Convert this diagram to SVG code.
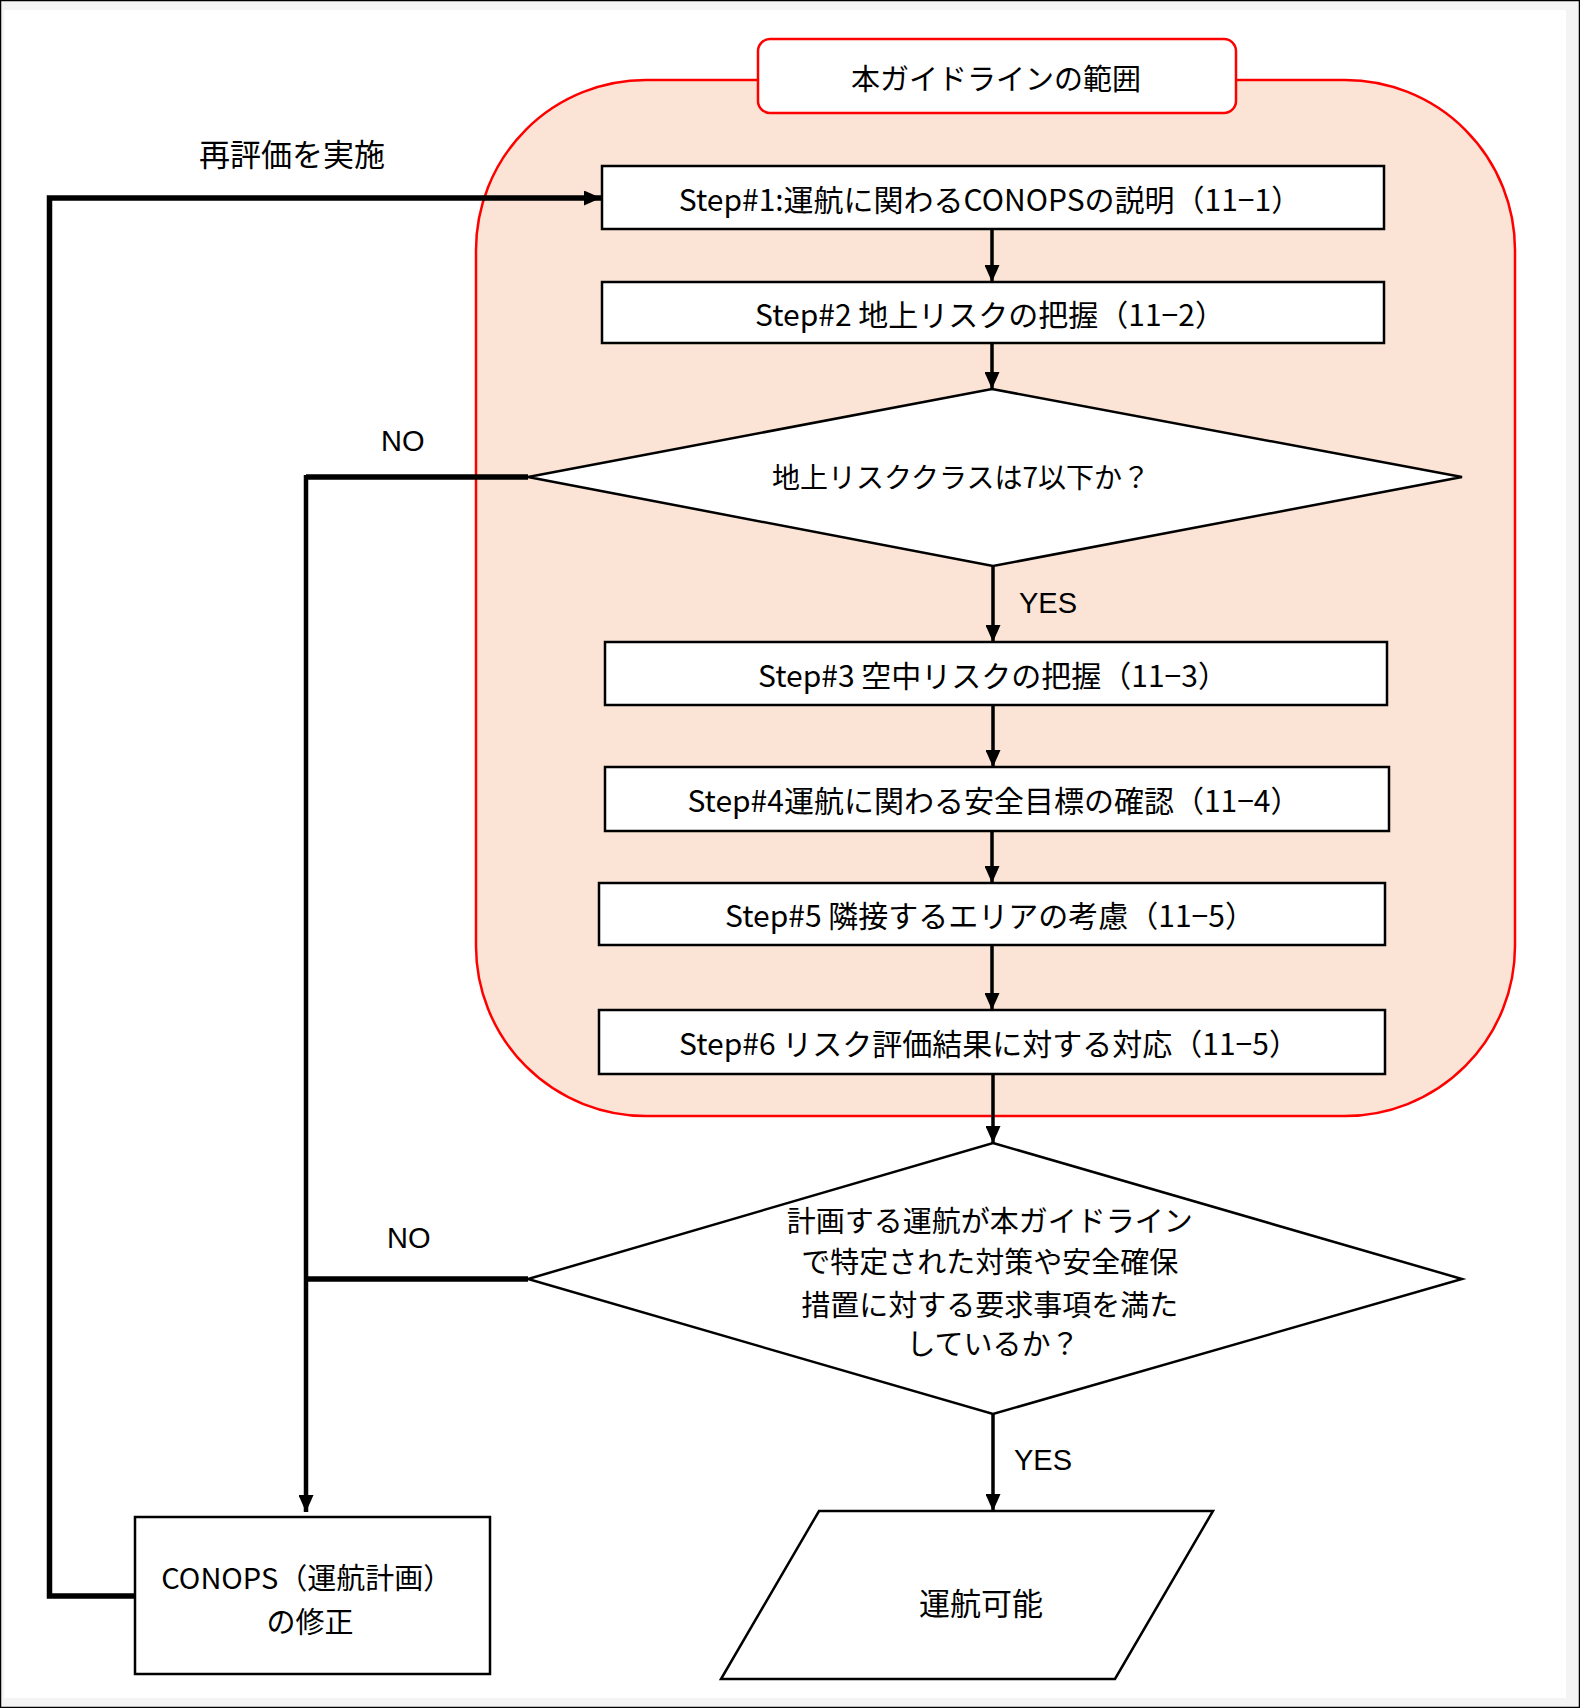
<svg xmlns="http://www.w3.org/2000/svg" width="1580" height="1708" viewBox="0 0 1580 1708">
<defs>
<marker id="arr" markerUnits="userSpaceOnUse" markerWidth="17" markerHeight="15" refX="17" refY="7.5" orient="auto">
<path d="M0,0 L17,7.5 L0,15 z" fill="#000"/>
</marker>
<style>
.t{font-family:"Noto Sans CJK JP","Noto Sans",sans-serif;fill:#000;}
.l{font-family:"Liberation Sans",Arial,sans-serif;fill:#000;font-size:29px;}
.box{fill:#fff;stroke:#000;stroke-width:2.5;}
.c{fill:none;stroke:#000;stroke-width:3.5;}
.k{fill:none;stroke:#000;stroke-width:5.5;}
</style>
</defs>
<rect x="0.5" y="0.5" width="1579" height="1707" fill="#f4f4f4" stroke="#000" stroke-width="1.5"/>
<rect x="4" y="10" width="1562" height="1688" fill="#fff"/>

<g id="scope">
<rect x="476" y="80" width="1039" height="1036" rx="170" ry="170" fill="#fbe4d5" stroke="#ff0000" stroke-width="2.5"/>
<rect x="758" y="39" width="478" height="74" rx="12" ry="12" fill="#fff" stroke="#ff0000" stroke-width="2.5"/>
<text class="t" x="996" y="90" font-size="29" text-anchor="middle">本ガイドラインの範囲</text>
</g>

<g id="connectors">
<line class="c" x1="992" y1="229" x2="992" y2="282" marker-end="url(#arr)"/>
<line class="c" x1="992" y1="343" x2="992" y2="389" marker-end="url(#arr)"/>
<line class="c" x1="993" y1="566" x2="993" y2="642" marker-end="url(#arr)"/>
<line class="c" x1="993" y1="705" x2="993" y2="767" marker-end="url(#arr)"/>
<line class="c" x1="992" y1="831" x2="992" y2="883" marker-end="url(#arr)"/>
<line class="c" x1="992" y1="945" x2="992" y2="1010" marker-end="url(#arr)"/>
<line class="c" x1="993" y1="1074" x2="993" y2="1143" marker-end="url(#arr)"/>
<line class="c" x1="993" y1="1414" x2="993" y2="1511" marker-end="url(#arr)"/>
<polyline class="k" points="528,477 306,477"/>
<polyline fill="none" stroke="#000" stroke-width="4.5" points="306,475 306,1512" marker-end="url(#arr)"/>
<polyline class="k" points="528,1279 306,1279"/>
<polyline class="k" points="135,1596 49.5,1596 49.5,198 601,198" marker-end="url(#arr)"/>
<text class="l" x="381" y="451">NO</text>
<text class="l" x="387" y="1248">NO</text>
<text class="l" x="1019" y="613">YES</text>
<text class="l" x="1014" y="1470">YES</text>
<text class="t" x="292" y="166" font-size="31" text-anchor="middle">再評価を実施</text>
</g>

<g id="step1">
<rect class="box" x="602" y="166" width="782" height="63"/>
<text class="t" x="990" y="211" font-size="30" text-anchor="middle">Step#1:運航に関わるCONOPSの説明（11−1）</text>
</g>
<g id="step2">
<rect class="box" x="602" y="282" width="782" height="61"/>
<text class="t" x="990" y="326" font-size="30" text-anchor="middle">Step#2 地上リスクの把握（11−2）</text>
</g>
<g id="decision1">
<polygon class="box" points="992,389 1462,477 993,566 528,477"/>
<text class="t" x="961" y="488" font-size="28" text-anchor="middle">地上リスククラスは7以下か？</text>
</g>
<g id="step3">
<rect class="box" x="605" y="642" width="782" height="63"/>
<text class="t" x="993" y="687" font-size="30" text-anchor="middle">Step#3 空中リスクの把握（11−3）</text>
</g>
<g id="step4">
<rect class="box" x="605" y="767" width="784" height="64"/>
<text class="t" x="994" y="812" font-size="30" text-anchor="middle">Step#4運航に関わる安全目標の確認（11−4）</text>
</g>
<g id="step5">
<rect class="box" x="599" y="883" width="786" height="62"/>
<text class="t" x="990" y="927" font-size="30" text-anchor="middle">Step#5 隣接するエリアの考慮（11−5）</text>
</g>
<g id="step6">
<rect class="box" x="599" y="1010" width="786" height="64"/>
<text class="t" x="989" y="1055" font-size="30" text-anchor="middle">Step#6 リスク評価結果に対する対応（11−5）</text>
</g>
<g id="decision2">
<polygon class="box" points="993,1143 1462,1279 993,1414 528,1279"/>
<text class="t" font-size="29" text-anchor="middle">
<tspan x="993" y="1232">計画する運航が本ガイドライン</tspan>
<tspan x="993" y="1273">で特定された対策や安全確保</tspan>
<tspan x="993" y="1316">措置に対する要求事項を満た</tspan>
<tspan x="993" y="1355">しているか？</tspan>
</text>
</g>
<g id="revise">
<rect class="box" x="135" y="1517" width="355" height="157"/>
<text class="t" font-size="29" text-anchor="middle">
<tspan x="310" y="1589">CONOPS（運航計画）</tspan>
<tspan x="310" y="1633">の修正</tspan>
</text>
</g>
<g id="ok">
<polygon class="box" points="819,1511 1213,1511 1115,1679 721,1679"/>
<text class="t" x="981" y="1615" font-size="31" text-anchor="middle">運航可能</text>
</g>
</svg>
